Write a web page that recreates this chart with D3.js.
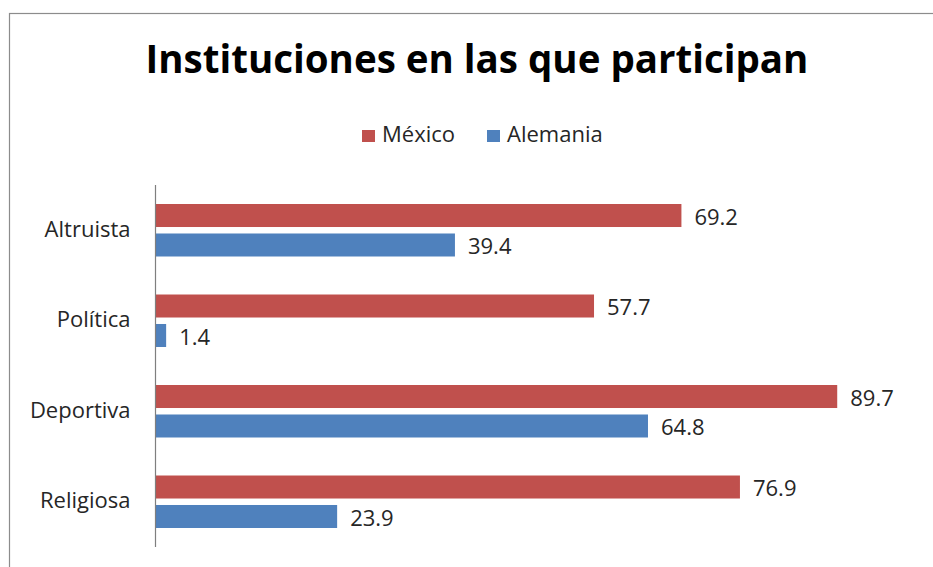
<!DOCTYPE html>
<html>
<head>
<meta charset="utf-8">
<script src="https://cdn.jsdelivr.net/npm/d3@7"></script>
<style>
  html, body { margin: 0; padding: 0; background: #fff; }
  svg { display: block; }
  text { font-family: "Open Sans", Lato, sans-serif; }
</style>
</head>
<body>
<svg id="chart" width="933" height="567"></svg>
<script>
// Participation (%) by type of institution
const categories = ["Altruista", "Política", "Deportiva", "Religiosa"];
const seriesNames = ["México", "Alemania"];
const mexico = [69.2, 57.7, 89.7, 76.9];
const alemania = [39.4, 1.4, 64.8, 23.9];
const colors = ["#C0504D", "#4F81BD"];

const svg = d3.select("#chart");
const textColor = "#262626";

// outer frame of the chart area
svg.append("rect")
  .attr("x", 9.5).attr("y", 13.5)
  .attr("width", 960).attr("height", 600)
  .attr("fill", "#fff").attr("stroke", "#8c8c8c").attr("stroke-width", 1.2);

// title
svg.append("text")
  .attr("x", 477).attr("y", 73)
  .attr("text-anchor", "middle")
  .attr("font-size", 38.5).attr("font-weight", "bold")
  .attr("fill", "#000")
  .text("Instituciones en las que participan");

// plot geometry
const plotLeft = 155.5, plotTop = 185, plotBottom = 547;
const x = d3.scaleLinear().domain([0, 100]).range([plotLeft, plotLeft + 760]);
const y = d3.scaleBand().domain(categories).range([plotTop, plotBottom]).paddingInner(0.42).paddingOuter(0.21);
const sub = d3.scaleBand().domain(seriesNames).range([0, y.bandwidth()]).paddingInner(0.22);

const rows = categories.map((c, i) => ({ cat: c, values: [mexico[i], alemania[i]] }));

const groups = svg.append("g").selectAll("g.cat").data(rows).join("g")
  .attr("class", "cat")
  .attr("transform", d => `translate(0,${y(d.cat)})`);

groups.selectAll("rect").data(d => d.values.map((v, k) => ({ v, k })))
  .join("rect")
  .attr("x", x(0))
  .attr("y", d => sub(seriesNames[d.k]))
  .attr("width", d => x(d.v) - x(0))
  .attr("height", sub.bandwidth())
  .attr("fill", d => colors[d.k]);

groups.selectAll("text.val").data(d => d.values.map((v, k) => ({ v, k })))
  .join("text")
  .attr("class", "val")
  .attr("x", d => x(d.v) + 13)
  .attr("y", d => sub(seriesNames[d.k]) + sub.bandwidth() / 2)
  .attr("dy", "0.42em")
  .attr("font-size", 22)
  .attr("fill", textColor)
  .text(d => d3.format(".1f")(d.v));

// category axis
const yAxis = svg.append("g")
  .attr("transform", `translate(${plotLeft},0)`)
  .call(d3.axisLeft(y).tickSize(0).tickPadding(25));
yAxis.select(".domain").attr("stroke", "#7f7f7f").attr("stroke-width", 1.2)
  .attr("d", `M0,${plotTop}V${plotBottom}`);
yAxis.selectAll("text")
  .attr("font-size", 22)
  .attr("dy", "0.3em")
  .attr("fill", textColor)
  .attr("font-family", "'Open Sans', sans-serif");

// legend
const legendItems = [
  { name: seriesNames[0], color: colors[0], x: 362 },
  { name: seriesNames[1], color: colors[1], x: 487 }
];
const lg = svg.append("g").selectAll("g").data(legendItems).join("g")
  .attr("transform", d => `translate(${d.x},142)`);
lg.append("rect").attr("x", 0).attr("y", -12).attr("width", 13).attr("height", 12)
  .attr("fill", d => d.color);
lg.append("text").attr("x", 20).attr("y", 0)
  .attr("font-size", 22).attr("fill", textColor)
  .text(d => d.name);
</script>
</body>
</html>
